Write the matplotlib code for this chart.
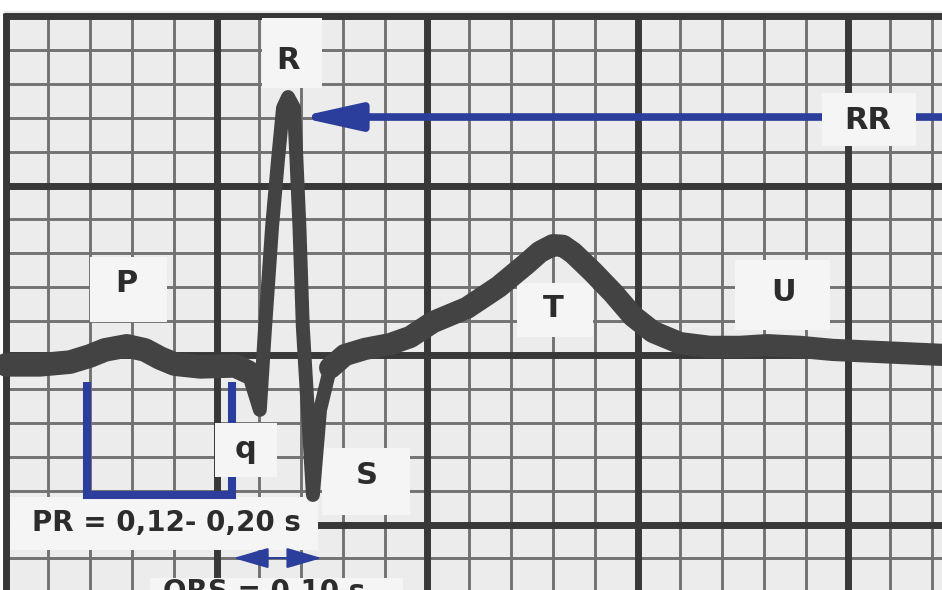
import numpy as np
import matplotlib.pyplot as plt
from matplotlib.patches import Rectangle

# ECG trace: x in small squares (1 mm), y in mm above the 0 line
t_mm = [0.0, 0.81, 1.52, 1.99, 2.35, 2.87, 3.30, 3.66, 4.01, 4.61, 5.44, 5.75,
        6.03, 6.15, 6.32, 6.46, 6.58, 6.70, 6.84, 6.90, 6.97, 7.05, 7.29, 7.46, 7.70,
        8.05, 8.53, 9.12, 9.60, 10.14, 10.95, 11.70, 12.38, 12.68, 12.99, 13.23,
        13.47, 13.94, 14.42, 14.89, 15.37, 16.01, 16.72, 17.43, 18.08, 18.86,
        19.64, 21.24, 22.30]
amp_mm = [-0.29, -0.29, -0.21, -0.03, 0.15, 0.27, 0.15, -0.09, -0.27, -0.35, -0.32, -0.50,
          -1.62, 0.74, 3.78, 5.75, 7.29, 7.61, 7.29, 5.75, 3.78, 0.83, -4.13, -1.62, -0.38,
          0.00, 0.18, 0.32, 0.53, 0.97, 1.39, 2.01, 2.71, 3.04, 3.24, 3.22,
          3.01, 2.45, 1.83, 1.15, 0.68, 0.35, 0.24, 0.24, 0.29, 0.24,
          0.15, 0.06, 0.00]
qrs_from, qrs_to = 11, 24

# wave labels: text, x, y
labels = ['R', 'RR', 'P', 'T', 'U', 'q', 'S']
label_x = [6.70, 20.48, 2.87, 12.99, 18.46, 5.68, 8.57]
label_y = [8.68, 6.93, 2.10, 1.37, 1.84, -2.80, -3.54]
# white patches behind the labels: x0, y0, w, h
box_x = [6.08, 19.38, 2.00, 12.14, 17.32, 4.96, 7.51, 0.10, 3.42]
box_y = [7.88, 6.17, 0.97, 0.53, 0.74, -3.60, -4.72, -5.75, -6.95]
box_w = [1.43, 2.24, 1.82, 1.80, 2.25, 1.48, 2.09, 7.31, 6.00]
box_h = [2.06, 1.56, 1.92, 1.59, 2.06, 1.59, 1.98, 1.56, 0.37]

pr_text = 'PR = 0,12- 0,20 s'
qrs_text = 'QRS = 0,10 s'

blue = '#2b3e9b'
ink = '#2c2c2c'
paper = '#ececec'
patch = '#f5f5f5'

fig = plt.figure(figsize=(9.42, 5.9), dpi=100)
ax = fig.add_axes([0, 0, 1, 1])
ax.set_xlim(-6 / 42.1, 936 / 42.1)
ax.set_ylim(-235 / 33.9, 355 / 33.9)
ax.axis('off')

# paper
ax.add_patch(Rectangle((-0.05, -8), 24, 18.15, facecolor=paper, edgecolor='none', zorder=0))
small = np.arange(0, 23)
thin_x = [v for v in small if v % 5]
thick_x = [v for v in small if v % 5 == 0]
rows = np.arange(-7, 11)
thin_y = [v for v in rows if v % 5]
thick_y = [v for v in rows if v % 5 == 0]
ax.vlines(thin_x, -8, 10.1, color='#727272', lw=2.1, zorder=1)
ax.hlines(thin_y, -0.05, 23, color='#727272', lw=2.1, zorder=1)
ax.vlines(thick_x, -8, 10.1, color='#383838', lw=5, zorder=1)
ax.hlines(thick_y, -0.05, 23, color='#383838', lw=5, zorder=1)

for x0, y0, w, h in zip(box_x, box_y, box_w, box_h):
    ax.add_patch(Rectangle((x0, y0), w, h, facecolor=patch, edgecolor='none', zorder=2))

# trace
kw = dict(color='#434343', solid_capstyle='round', solid_joinstyle='round', zorder=3)
ax.plot(t_mm[:qrs_from + 1], amp_mm[:qrs_from + 1], lw=17, **kw)
ax.plot(t_mm[qrs_from:qrs_to + 1], amp_mm[qrs_from:qrs_to + 1], lw=10, **kw)
ax.plot(t_mm[qrs_to:], amp_mm[qrs_to:], lw=16, **kw)

# RR arrow
ax.annotate('', xy=(6.94, 7.02), xytext=(22.5, 7.02),
            arrowprops=dict(arrowstyle='-|>,head_length=1.8,head_width=0.4', lw=5.5,
                            color=blue, mutation_scale=20, shrinkA=0, shrinkB=0), zorder=4)
ax.add_patch(Rectangle((box_x[1], box_y[1]), box_w[1], box_h[1], facecolor=patch,
                       edgecolor='none', zorder=5))

# PR bracket
ax.plot([1.92, 1.92, 5.37, 5.37], [-0.80, -4.13, -4.13, -0.80], color=blue, lw=5.8,
        solid_joinstyle='miter', solid_capstyle='butt', zorder=4)
ax.add_patch(Rectangle((box_x[5], box_y[5]), box_w[5], box_h[5], facecolor=patch,
                       edgecolor='none', zorder=5))

# QRS arrows
ax.annotate('', xy=(5.40, -5.99), xytext=(7.50, -5.99),
            arrowprops=dict(arrowstyle='<|-|>,head_length=1.1,head_width=0.32', lw=1.5,
                            color=blue, mutation_scale=20, shrinkA=0, shrinkB=0), zorder=4)

for s, x, y in zip(labels, label_x, label_y):
    ax.text(x, y, s, ha='center', va='center', fontsize=22, fontweight='bold',
            family='DejaVu Sans', color=ink, zorder=6)
ax.text(3.80, -4.96, pr_text, ha='center', va='center', fontsize=20, fontweight='bold',
        family='DejaVu Sans', color=ink, zorder=6)
ax.text(3.73, -6.58, qrs_text, ha='left', va='top', fontsize=20, fontweight='bold',
        family='DejaVu Sans', color=ink, zorder=6)

fig.savefig('out.png', dpi=100, facecolor='white')
